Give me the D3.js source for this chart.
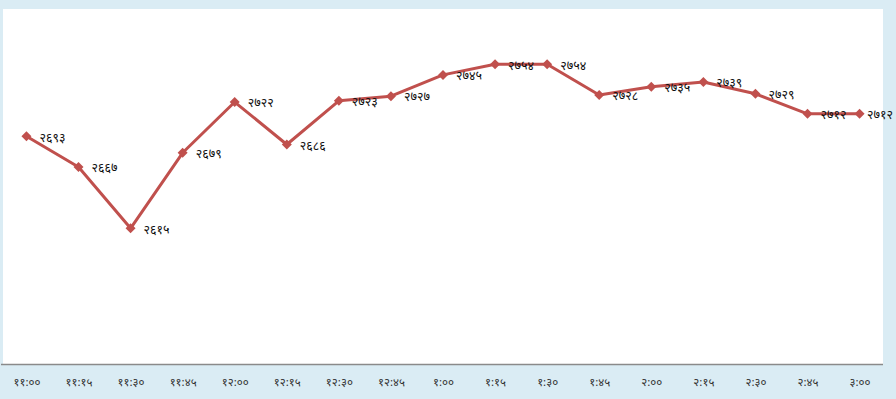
<!DOCTYPE html>
<html>
<head>
<meta charset="utf-8">
<script src="https://cdn.jsdelivr.net/npm/d3@7"></script>
<style>
  html, body { margin: 0; padding: 0; background: #daecf4; }
  svg { display: block; }
</style>
</head>
<body>
<div id="chart"></div>
<script>
// time labels along the bottom
var times = ['११:००', '११:१५', '११:३०', '११:४५', '१२:००', '१२:१५', '१२:३०', '१२:४५',
  '१:००', '१:१५', '१:३०', '१:४५', '२:००', '२:१५', '२:३०', '२:४५', '३:००'];
// index values at each time
var values = [2693, 2667, 2615, 2679, 2722, 2686, 2723, 2727, 2745, 2754, 2754,
  2728, 2735, 2739, 2729, 2712, 2712];
// value labels as printed on the chart
var valueLabels = ['२६९३', '२६६७', '२६१५', '२६७९', '२७२२', '२६८६', '२७२३', '२७२७', '२७४५',
  '२७५४', '२७५४', '२७२८', '२७३५', '२७३९', '२७२९', '२७१२', '२७१२'];
var yDomain = [2500, 2800];

var width = 896, height = 399;
var plot = { left: 3, right: 883, top: 9, bottom: 364 };

var svg = d3.select('#chart').append('svg')
  .attr('width', width)
  .attr('height', height);

// white plot area
svg.append('rect')
  .attr('x', plot.left)
  .attr('y', plot.top)
  .attr('width', plot.right - plot.left)
  .attr('height', plot.bottom - plot.top)
  .style('fill', '#fff');

var x = d3.scalePoint().domain(times).range([plot.left, plot.right]).padding(0.45);
var y = d3.scaleLinear().domain(yDomain).range([plot.bottom, 10]);

var data = times.map(function(t, i) {
  return { t: t, v: values[i], label: valueLabels[i] };
});

// bottom axis
var axis = svg.append('g')
  .attr('transform', 'translate(0,' + plot.bottom + ')')
  .call(d3.axisBottom(x).tickSize(0).tickPadding(14));
axis.select('.domain')
  .attr('d', 'M1,0.5H' + plot.right)
  .style('stroke', '#8a8a8a')
  .style('stroke-width', '1.5px');
axis.selectAll('text')
  .style('font-family', '"Noto Sans", "DejaVu Sans", sans-serif')
  .style('font-size', '11.5px')
  .style('fill', '#333');

// the line
var line = d3.line()
  .x(function(d) { return x(d.t); })
  .y(function(d) { return y(d.v); });

svg.append('path')
  .datum(data)
  .attr('d', line)
  .style('fill', 'none')
  .style('stroke', '#c0504d')
  .style('stroke-width', '3px')
  .style('stroke-linejoin', 'round');

// diamond markers (square turned 45 degrees)
svg.selectAll('path.marker')
  .data(data)
  .enter().append('path')
  .attr('class', 'marker')
  .attr('d', d3.symbol().type(d3.symbolSquare).size(50))
  .attr('transform', function(d) { return 'translate(' + x(d.t) + ',' + y(d.v) + ') rotate(45)'; })
  .style('fill', '#c0504d');

// value labels, pulled back in if they would run off the right edge
svg.selectAll('text.val')
  .data(data)
  .enter().append('text')
  .attr('class', 'val')
  .attr('x', function(d) { return x(d.t) + 13; })
  .attr('y', function(d) { return y(d.v) + 2; })
  .attr('dominant-baseline', 'middle')
  .style('font-family', '"Noto Sans", "DejaVu Sans", sans-serif')
  .style('font-size', '12.5px')
  .style('fill', '#111')
  .text(function(d) { return d.label; })
  .each(function(d) {
    var w = this.getComputedTextLength();
    var x0 = x(d.t) + 13;
    if (x0 + w > width - 3) {
      d3.select(this).attr('x', Math.max(x(d.t) + 7, width - 3 - w));
    }
  });
</script>
</body>
</html>
